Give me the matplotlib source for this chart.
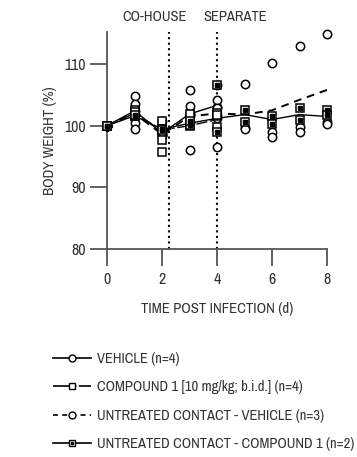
import numpy as np
import matplotlib
matplotlib.use("Agg")
import matplotlib.pyplot as plt
from matplotlib.lines import Line2D
from matplotlib.legend_handler import HandlerTuple

plt.rcParams['font.family'] = ['Archivo Narrow', 'Liberation Sans', 'DejaVu Sans']

# mean lines
days_inf = [0, 1, 2, 3, 4]
days_all = [0, 1, 2, 3, 4, 5, 6, 7, 8]
vehicle_mean = [100, 102.4, 98.8, 101.9, 103.3]
compound_mean = [100, 102.0, 99.3, 100.0, 101.0]
contact_veh_mean = [100, 102.0, 98.6, 101.5, 102.0, 101.8, 102.5, 104.2, 105.8]
contact_cmp_mean = [100, 101.6, 99.4, 100.4, 101.2, 101.8, 101.0, 101.8, 101.5]

# individual animals (rows = day)
vehicle_pts = [[100, 100, 100, 100], [104.8, 103.5, 100.5, 99.4], [100.8, 99.5, 98.5, 99.0],
               [105.8, 103.2, 101.8, 96.0], [104.2, 102.9, 106.6, 96.6]]
compound_pts = [[100, 100, 100, 100], [102.6, 101.8, 102.2, 101.6], [100.8, 99.4, 97.7, 95.8],
                [101.9, 100.1, 100.0, 100.3], [102.0, 101.5, 99.8, 101.8]]
contact_veh_pts = [[100, 100, 100], [102.4, 101.8, 101.8], [98.5, 98.8, 98.5],
                   [101.8, 100.6, 102.1], [103.0, 101.8, 101.2], [106.8, 99.7, 99.5],
                   [110.2, 98.9, 98.2], [113.0, 99.8, 99.0], [114.8, 100.6, 100.2]]
contact_cmp_pts = [[100, 100], [101.5, 101.7], [99.5, 99.3], [100.1, 100.7],
                   [106.6, 98.9], [102.6, 100.6], [101.5, 100.2], [102.9, 101.0], [102.6, 101.8]]

labels = ['VEHICLE (n=4)', 'COMPOUND 1 [10 mg/kg; b.i.d.] (n=4)',
          'UNTREATED CONTACT - VEHICLE (n=3)', 'UNTREATED CONTACT - COMPOUND 1 (n=2)']

fig = plt.figure(figsize=(3.57, 4.57), dpi=100)
ax = fig.add_axes([107 / 357, 1 - 249 / 457, 220 / 357, 217 / 457])

gray = '#333333'
ms = 6
mk = dict(mfc='white', mec='black', mew=1.1, ms=ms, clip_on=False)


def scatter(days, pts, marker):
    for d, vals in zip(days, pts):
        ax.plot([d] * len(vals), vals, ls='none', marker=marker, zorder=4, **mk)


scatter(days_all, contact_veh_pts, 'o')
scatter(days_inf, vehicle_pts, 'o')
scatter(days_inf, compound_pts, 's')
scatter(days_all, contact_cmp_pts, 's')
for d, vals in zip(days_all, contact_cmp_pts):
    ax.plot([d] * len(vals), vals, ls='none', marker='s', ms=2.2, color='black', zorder=5, clip_on=False)

lw = 1.0
cmp_ls = (0, (8, 2, 2, 2))
ax.plot(days_inf, vehicle_mean, color='black', lw=lw, zorder=3)
ax.plot(days_inf, compound_mean, color='black', lw=lw, ls=cmp_ls, zorder=3)
ax.plot(days_all, contact_veh_mean, color='black', lw=1.4, ls=(0, (4, 3)), zorder=3)
ax.plot(days_all, contact_cmp_mean, color='black', lw=lw, zorder=3)

ax.axvline(2.25, color='black', ls=':', lw=1.5, zorder=2)
ax.axvline(4, color='black', ls=':', lw=1.5, zorder=2)

ax.set_xlim(0, 8)
ax.set_ylim(80, 115.2)
ax.set_xticks([0, 2, 4, 6, 8])
ax.set_yticks([80, 90, 100, 110])
for s in ['top', 'right']:
    ax.spines[s].set_visible(False)
for s in ['left', 'bottom']:
    ax.spines[s].set_color('#555555')
    ax.spines[s].set_linewidth(1.3)
ax.tick_params(direction='out', length=12.5, width=1.3, color='#555555', labelsize=11.5,
               labelcolor=gray)
ax.tick_params(axis='x', pad=4)
ax.tick_params(axis='y', pad=3)
ax.set_xlabel('TIME POST INFECTION (d)', fontsize=10.7, color=gray, labelpad=11)
ax.set_ylabel('BODY WEIGHT (%)', fontsize=10.7, color=gray, labelpad=5)

fig.text(155 / 357, 1 - 17 / 457, 'CO-HOUSE', ha='center', va='center', fontsize=10.5, color=gray)
fig.text(235 / 357, 1 - 17 / 457, 'SEPARATE', ha='center', va='center', fontsize=10.5, color=gray)

hk = dict(color='black', lw=1.2, mfc='white', mec='black', ms=5)
h1 = Line2D([], [], marker='o', **hk)
h2 = Line2D([], [], ls=(0, (11, 1.5, 1.5, 1.5)), marker='s', **hk)
h3 = Line2D([], [], ls=(0, (3, 2.5)), marker='o', **hk)
h4a = Line2D([], [], marker='s', **hk)
h4b = Line2D([], [], ls='none', marker='s', color='black', ms=2)
fig.legend([h1, h2, h3, (h4a, h4b)], labels, loc='upper left',
           bbox_to_anchor=(40 / 357, 1 - 339 / 457), frameon=False, fontsize=10.5,
           labelcolor=gray, handlelength=2.6, handletextpad=0.4, labelspacing=0.98,
           handler_map={tuple: HandlerTuple(ndivide=1)})

fig.savefig('out.png', dpi=100)
